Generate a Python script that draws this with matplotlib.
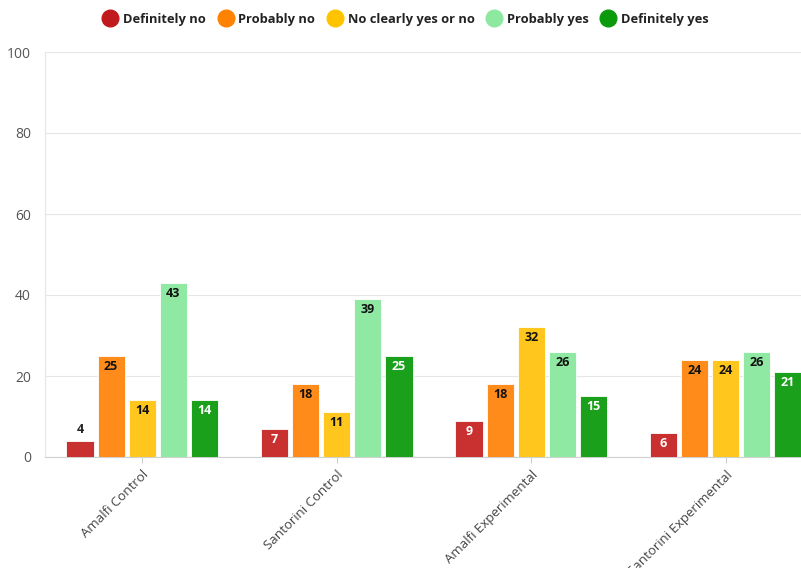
import matplotlib
matplotlib.use("Agg")
import matplotlib.pyplot as plt
from matplotlib.lines import Line2D
import numpy as np

plt.rcParams['font.family'] = ['Open Sans', 'DejaVu Sans']

categories = ["Amalfi Control", "Santorini Control", "Amalfi Experimental", "Santorini Experimental"]
series_names = ["Definitely no", "Probably no", "No clearly yes or no", "Probably yes", "Definitely yes"]
definitely_no = [4, 7, 9, 6]
probably_no = [25, 18, 18, 24]
no_clear = [14, 11, 32, 24]
probably_yes = [43, 39, 26, 26]
definitely_yes = [14, 25, 15, 21]
yticks = [0, 20, 40, 60, 80, 100]

series = [definitely_no, probably_no, no_clear, probably_yes, definitely_yes]
bar_colors = ["#C93030", "#FF8C1A", "#FFC61E", "#90E9A2", "#1BA01B"]
legend_colors = ["#C01A1E", "#FF8200", "#FFC300", "#8EE9A0", "#0B9A0B"]
label_colors = ["white", "#111111", "#111111", "#111111", "white"]

fig = plt.figure(figsize=(8.01, 5.68), dpi=100)
ax = fig.add_axes([45/801, 1-457/568, (823-45)/801, (457-52)/568])

x = np.arange(len(categories))
step = 0.16
width = 0.14
for i, (vals, c) in enumerate(zip(series, bar_colors)):
    pos = x + (i - 2) * step
    bars = ax.bar(pos, vals, width=width, color=c, edgecolor='white', linewidth=0.6, zorder=3)
    for b, v in zip(bars, vals):
        if v >= 5:
            ax.text(b.get_x() + b.get_width()/2, v - 1.0, str(v), ha='center', va='top',
                    fontsize=9, fontweight='bold', color=label_colors[i], zorder=4)
        else:
            ax.text(b.get_x() + b.get_width()/2, v + 1.2, str(v), ha='center', va='bottom',
                    fontsize=9, fontweight='bold', color='#222222', zorder=4)

ax.set_xlim(-0.5, 3.5)
ax.set_ylim(0, 100)
ax.set_yticks(yticks)
ax.set_yticklabels([str(t) for t in yticks], fontsize=10, color='#555555')
ax.tick_params(axis='y', length=0, pad=10)
ax.grid(axis='y', color='#e6e6e6', linewidth=0.8, zorder=0)
ax.set_xticks(x)
ax.set_xticklabels(categories, rotation=45, ha='right', rotation_mode='anchor',
                   fontsize=9.5, color='#444444')
ax.tick_params(axis='x', length=4, color='#cccccc', pad=4)
for s in ['top', 'right']:
    ax.spines[s].set_visible(False)
ax.spines['left'].set_color('#e6e6e6')
ax.spines['bottom'].set_color('#d0d0d0')

handles = [Line2D([0], [0], marker='o', linestyle='', markersize=12,
                  markerfacecolor=c, markeredgecolor=c) for c in legend_colors]
leg = fig.legend(handles, series_names, loc='center', bbox_to_anchor=(403/801, 1-19/568),
                 ncol=5, frameon=False, handletextpad=0.0, columnspacing=0.5,
                 prop={'size': 9.3, 'weight': 'bold'})
for t in leg.get_texts():
    t.set_color('#222222')

fig.savefig("out.png", dpi=100)
